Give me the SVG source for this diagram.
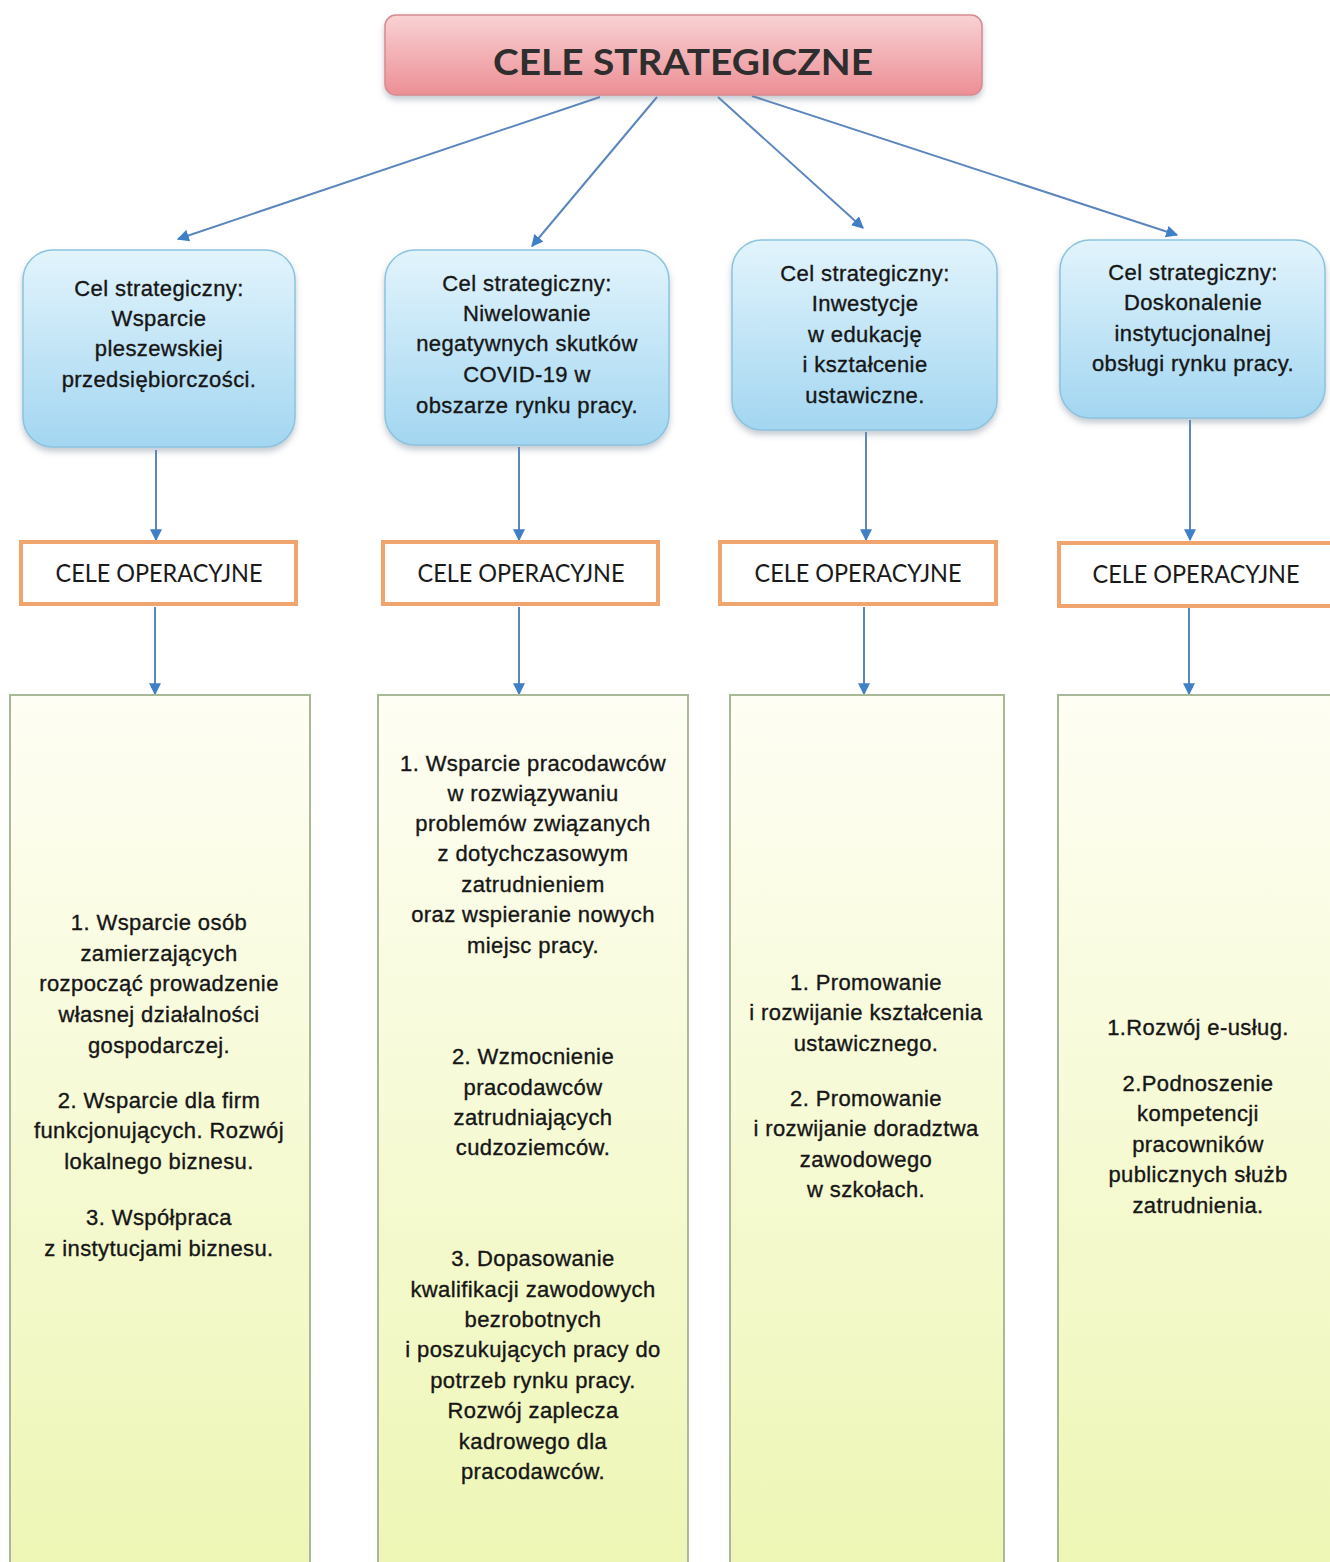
<svg xmlns="http://www.w3.org/2000/svg" width="1330" height="1562" viewBox="0 0 1330 1562">
<style>
.t{font-family:"Liberation Sans",Arial,sans-serif;font-size:22px;letter-spacing:0.4px;fill:#161616;stroke:#161616;stroke-width:0.35px;text-anchor:middle}
.op{font-family:Lato,"Open Sans",sans-serif;font-size:25px;fill:#1a1a1a;text-anchor:middle}
.blue{fill:url(#gb);stroke:#8cc3df;stroke-width:1.5;filter:url(#sh)}
.org{fill:#fff;stroke:#f0a46e;stroke-width:4}
.grn{fill:url(#gg);stroke:#a9b896;stroke-width:2}
.c{stroke:#5b86bd;stroke-width:2;fill:none;marker-end:url(#ah)}
</style>
<defs>
<linearGradient id="gp" x1="0" y1="0" x2="0" y2="1"><stop offset="0" stop-color="#f8d2d4"/><stop offset="1" stop-color="#ec8f95"/></linearGradient>
<linearGradient id="gb" x1="0" y1="0" x2="0" y2="1"><stop offset="0" stop-color="#e2f4fc"/><stop offset="1" stop-color="#a3d6f1"/></linearGradient>
<linearGradient id="gg" x1="0" y1="0" x2="0" y2="1"><stop offset="0" stop-color="#fefef4"/><stop offset="0.5" stop-color="#f6fad4"/><stop offset="1" stop-color="#edf6b4"/></linearGradient>
<filter id="sh" x="-10%" y="-10%" width="120%" height="125%"><feDropShadow dx="0" dy="4" stdDeviation="3" flood-color="#7a8a99" flood-opacity="0.45"/></filter>
<marker id="ah" viewBox="0 0 10 10" refX="9" refY="5" markerWidth="6" markerHeight="6" orient="auto" markerUnits="strokeWidth"><path d="M0,0 L10,5 L0,10 z" fill="#3f7fc6"/></marker>
</defs>

<g id="connectors">
<line class="c" x1="600" y1="97" x2="178" y2="239"/>
<line class="c" x1="657" y1="97" x2="532" y2="246"/>
<line class="c" x1="718" y1="97" x2="863" y2="228"/>
<line class="c" x1="752" y1="96" x2="1177" y2="235"/>
<line class="c" x1="156" y1="450" x2="156" y2="540"/>
<line class="c" x1="519" y1="447" x2="519" y2="540"/>
<line class="c" x1="866" y1="432" x2="866" y2="540"/>
<line class="c" x1="1190" y1="420" x2="1190" y2="540"/>
<line class="c" x1="155" y1="607" x2="155" y2="694"/>
<line class="c" x1="519" y1="607" x2="519" y2="694"/>
<line class="c" x1="864" y1="607" x2="864" y2="694"/>
<line class="c" x1="1189" y1="607" x2="1189" y2="694"/>
</g>

<g id="top">
<rect x="385" y="15" width="597" height="80" rx="11" fill="url(#gp)" stroke="#d88a90" stroke-width="1.5" filter="url(#sh)"/>
<text x="683" y="75" font-family="Lato,'Open Sans',sans-serif" font-weight="bold" font-size="37" fill="#2e2e2e" text-anchor="middle" textLength="380" lengthAdjust="spacingAndGlyphs">CELE STRATEGICZNE</text>
</g>

<g id="s1">
<rect class="blue" x="23" y="250" width="272" height="197" rx="30"/>
<text class="t" x="159" y="296">Cel strategiczny:</text>
<text class="t" x="159" y="326">Wsparcie</text>
<text class="t" x="159" y="356">pleszewskiej</text>
<text class="t" x="159" y="387">przedsiębiorczości.</text>
</g>
<g id="s2">
<rect class="blue" x="385" y="250" width="284" height="195" rx="30"/>
<text class="t" x="527" y="291">Cel strategiczny:</text>
<text class="t" x="527" y="321">Niwelowanie</text>
<text class="t" x="527" y="351">negatywnych skutków</text>
<text class="t" x="527" y="382">COVID-19 w</text>
<text class="t" x="527" y="413">obszarze rynku pracy.</text>
</g>
<g id="s3">
<rect class="blue" x="732" y="240" width="265" height="190" rx="30"/>
<text class="t" x="865" y="281">Cel strategiczny:</text>
<text class="t" x="865" y="311">Inwestycje</text>
<text class="t" x="865" y="342">w edukację</text>
<text class="t" x="865" y="372">i kształcenie</text>
<text class="t" x="865" y="403">ustawiczne.</text>
</g>
<g id="s4">
<rect class="blue" x="1060" y="240" width="265" height="178" rx="30"/>
<text class="t" x="1193" y="280">Cel strategiczny:</text>
<text class="t" x="1193" y="310">Doskonalenie</text>
<text class="t" x="1193" y="341">instytucjonalnej</text>
<text class="t" x="1193" y="371">obsługi rynku pracy.</text>
</g>

<g id="o1"><rect class="org" x="21" y="542" width="275" height="62"/><text class="op" x="159" y="582" textLength="207" lengthAdjust="spacingAndGlyphs">CELE OPERACYJNE</text></g>
<g id="o2"><rect class="org" x="383" y="542" width="275" height="62"/><text class="op" x="521" y="582" textLength="207" lengthAdjust="spacingAndGlyphs">CELE OPERACYJNE</text></g>
<g id="o3"><rect class="org" x="720" y="542" width="276" height="62"/><text class="op" x="858" y="582" textLength="207" lengthAdjust="spacingAndGlyphs">CELE OPERACYJNE</text></g>
<g id="o4"><rect class="org" x="1059" y="543" width="280" height="63"/><text class="op" x="1196" y="583" textLength="207" lengthAdjust="spacingAndGlyphs">CELE OPERACYJNE</text></g>

<g id="g1">
<rect class="grn" x="10" y="695" width="300" height="880"/>
<text class="t" x="159" y="930">1. Wsparcie osób</text>
<text class="t" x="159" y="961">zamierzających</text>
<text class="t" x="159" y="991">rozpocząć prowadzenie</text>
<text class="t" x="159" y="1022">własnej działalności</text>
<text class="t" x="159" y="1053">gospodarczej.</text>
<text class="t" x="159" y="1108">2. Wsparcie dla firm</text>
<text class="t" x="159" y="1138">funkcjonujących. Rozwój</text>
<text class="t" x="159" y="1169">lokalnego biznesu.</text>
<text class="t" x="159" y="1225">3. Współpraca</text>
<text class="t" x="159" y="1256">z instytucjami biznesu.</text>
</g>
<g id="g2">
<rect class="grn" x="378" y="695" width="310" height="880"/>
<text class="t" x="533" y="771">1. Wsparcie pracodawców</text>
<text class="t" x="533" y="801">w rozwiązywaniu</text>
<text class="t" x="533" y="831">problemów związanych</text>
<text class="t" x="533" y="861">z dotychczasowym</text>
<text class="t" x="533" y="892">zatrudnieniem</text>
<text class="t" x="533" y="922">oraz wspieranie nowych</text>
<text class="t" x="533" y="953">miejsc pracy.</text>
<text class="t" x="533" y="1064">2. Wzmocnienie</text>
<text class="t" x="533" y="1095">pracodawców</text>
<text class="t" x="533" y="1125">zatrudniających</text>
<text class="t" x="533" y="1155">cudzoziemców.</text>
<text class="t" x="533" y="1266">3. Dopasowanie</text>
<text class="t" x="533" y="1297">kwalifikacji zawodowych</text>
<text class="t" x="533" y="1327">bezrobotnych</text>
<text class="t" x="533" y="1357">i poszukujących pracy do</text>
<text class="t" x="533" y="1388">potrzeb rynku pracy.</text>
<text class="t" x="533" y="1418">Rozwój zaplecza</text>
<text class="t" x="533" y="1449">kadrowego dla</text>
<text class="t" x="533" y="1479">pracodawców.</text>
</g>
<g id="g3">
<rect class="grn" x="730" y="695" width="274" height="880"/>
<text class="t" x="866" y="990">1. Promowanie</text>
<text class="t" x="866" y="1020">i rozwijanie kształcenia</text>
<text class="t" x="866" y="1051">ustawicznego.</text>
<text class="t" x="866" y="1106">2. Promowanie</text>
<text class="t" x="866" y="1136">i rozwijanie doradztwa</text>
<text class="t" x="866" y="1167">zawodowego</text>
<text class="t" x="866" y="1197">w szkołach.</text>
</g>
<g id="g4">
<rect class="grn" x="1058" y="695" width="290" height="880"/>
<text class="t" x="1198" y="1035">1.Rozwój e-usług.</text>
<text class="t" x="1198" y="1091">2.Podnoszenie</text>
<text class="t" x="1198" y="1121">kompetencji</text>
<text class="t" x="1198" y="1152">pracowników</text>
<text class="t" x="1198" y="1182">publicznych służb</text>
<text class="t" x="1198" y="1213">zatrudnienia.</text>
</g>
</svg>
